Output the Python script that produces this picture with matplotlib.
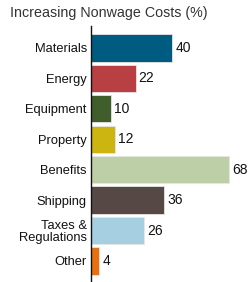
import matplotlib.pyplot as plt

plt.rcParams['font.family'] = ['Liberation Sans', 'DejaVu Sans']

categories = ['Materials', 'Energy', 'Equipment', 'Property', 'Benefits',
              'Shipping', 'Taxes &\nRegulations', 'Other']
values = [40, 22, 10, 12, 68, 36, 26, 4]
colors = ['#005b80', '#b83f42', '#3f5e2b', '#ccb510', '#bdcfa6',
          '#554845', '#a6d0e1', '#e8700f']

fig = plt.figure(figsize=(2.5, 2.82), dpi=100)
ax = fig.add_axes([0.364, 0.0, 0.636, 0.908])

ypos = list(range(len(categories)))
ax.barh(ypos, values, height=0.9, color=colors, edgecolor='#e6e6e6', linewidth=0.6)
for y, v in zip(ypos, values):
    ax.text(v + 1.5, y, str(v), va='center', ha='left', fontsize=10, color='#111111')

ax.set_yticks(ypos)
ax.set_yticklabels(categories, fontsize=9.3, color='#111111', linespacing=0.95)
ax.set_xlim(0, 78.3)
ax.set_ylim(7.69, -0.72)
ax.set_xticks([])
ax.tick_params(axis='y', length=0, pad=3)
for s in ['top', 'right', 'bottom']:
    ax.spines[s].set_visible(False)
ax.spines['left'].set_color('#111111')
ax.spines['left'].set_linewidth(1.0)

fig.text(0.04, 0.955, 'Increasing Nonwage Costs (%)', fontsize=10.3, color='#333333',
         ha='left', va='center')

fig.savefig('out.png', dpi=100)
